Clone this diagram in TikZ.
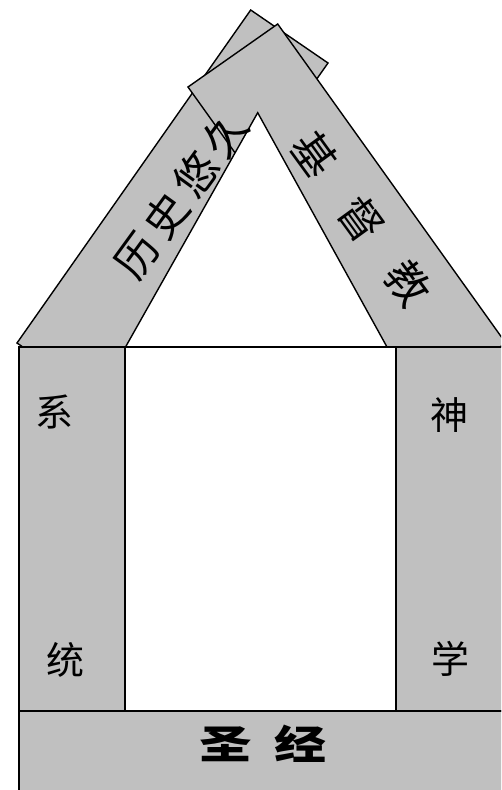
\documentclass[tikz,border=0pt]{standalone}
\usepackage{fontspec}
\newfontfamily\cjk{Noto Sans CJK SC}
\definecolor{beam}{RGB}{192,192,192}
\begin{document}
\begin{tikzpicture}[x=1pt,y=-1pt,line join=miter,
  part/.style={fill=beam,draw=black,line width=1.4pt},
  hole/.style={fill=white,draw=black,line width=1.4pt},
  lbl/.style={font=\cjk\fontsize{38}{38}\selectfont,inner sep=0pt},
  rooflbl/.style={font=\cjk\fontsize{43}{43}\selectfont,inner sep=0pt}]
\useasboundingbox (0,0) rectangle (501,790);
\clip (0,0) rectangle (501,790);
% left roof beam (behind)
\draw[part] (17,343) -- (250.7,10) -- (328,63) -- (94.3,396) -- cycle;
% right roof beam (front)
\draw[part] (188,87) -- (277.7,24) -- (505.7,343) -- (416,406) -- cycle;
% white triangle under the roof
\draw[hole] (257.7,112.7) -- (125.5,347) -- (387,347) -- cycle;
% middle white wall
\draw[hole] (125,347) rectangle (396,711);
% pillars
\draw[part] (19,347) rectangle (125,711);
\draw[part] (396,347) rectangle (512,711);
% base
\draw[part] (19,711) rectangle (512,800);
% roof texts
\node[rooflbl,rotate=54] (hist) at (181,195) {历\kern7pt史\kern7pt悠\kern7pt久};
\node[rooflbl,rotate=-54] (jdj) at (361,219) {基\kern37pt督\kern37pt教};
% pillar texts
\node[lbl] (xi) at (54,412) {系};
\node[lbl] (tong) at (65,660) {统};
\node[lbl] (shen) at (449,415) {神};
\node[lbl] (xue) at (450,659) {学};
% base text
\node[inner sep=0pt,font=\cjk\bfseries\fontsize{40}{40}\selectfont,xscale=1.3] (sj) at (263,744) {圣\kern18pt经};
\end{tikzpicture}
\end{document}
